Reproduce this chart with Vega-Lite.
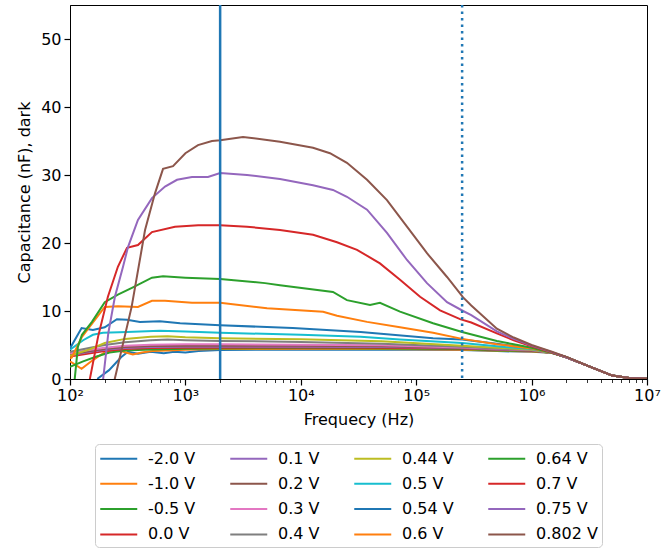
{
  "$schema": "https://vega.github.io/schema/vega-lite/v6.json",
  "autosize": {"type": "none"},
  "padding": {"left": 70, "top": 5, "right": 14, "bottom": 175},
  "width": 577,
  "height": 374,
  "config": {
    "font": "DejaVu Sans",
    "view": {"stroke": "#000000", "strokeWidth": 1},
    "axis": {"grid": false, "domainColor": "#000000", "tickColor": "#000000", "labelColor": "#000000", "titleColor": "#000000", "labelFontSize": 16, "titleFontSize": 16, "titleFontWeight": "normal", "labelFont": "DejaVu Sans", "titleFont": "DejaVu Sans"}
  },
  "datasets": {
    "curves": [
      {"s":"-2.0 V","f":165,"c":-1.5},{"s":"-2.0 V","f":175,"c":0.1},{"s":"-2.0 V","f":218,"c":1.3},{"s":"-2.0 V","f":277,"c":3.2},{"s":"-2.0 V","f":318,"c":4.0},{"s":"-2.0 V","f":388,"c":3.7},{"s":"-2.0 V","f":500,"c":4.0},{"s":"-2.0 V","f":650,"c":3.8},{"s":"-2.0 V","f":800,"c":4.0},{"s":"-2.0 V","f":1000,"c":3.9},{"s":"-2.0 V","f":1300,"c":4.1},{"s":"-2.0 V","f":2000,"c":4.25},{"s":"-2.0 V","f":5000,"c":4.3},{"s":"-2.0 V","f":20000,"c":4.3},{"s":"-2.0 V","f":100000,"c":4.3},{"s":"-2.0 V","f":250000,"c":4.25},{"s":"-2.0 V","f":500000,"c":4.1},{"s":"-2.0 V","f":1000000,"c":4.0},{"s":"-2.0 V","f":1500000,"c":3.85},{"s":"-2.0 V","f":2000000,"c":3.2},{"s":"-2.0 V","f":3000000,"c":2.0},{"s":"-2.0 V","f":5000000,"c":0.5},{"s":"-2.0 V","f":7000000,"c":0.15},{"s":"-2.0 V","f":10000000,"c":0.05},

      {"s":"-1.0 V","f":100,"c":2.6},{"s":"-1.0 V","f":126,"c":1.5},{"s":"-1.0 V","f":150,"c":2.5},{"s":"-1.0 V","f":175,"c":3.3},{"s":"-1.0 V","f":200,"c":3.9},{"s":"-1.0 V","f":240,"c":4.3},{"s":"-1.0 V","f":290,"c":4.0},{"s":"-1.0 V","f":350,"c":3.6},{"s":"-1.0 V","f":420,"c":3.9},{"s":"-1.0 V","f":520,"c":4.1},{"s":"-1.0 V","f":700,"c":4.2},{"s":"-1.0 V","f":1000,"c":4.3},{"s":"-1.0 V","f":2000,"c":4.4},{"s":"-1.0 V","f":10000,"c":4.45},{"s":"-1.0 V","f":50000,"c":4.4},{"s":"-1.0 V","f":250000,"c":4.3},{"s":"-1.0 V","f":500000,"c":4.15},{"s":"-1.0 V","f":1000000,"c":4.05},{"s":"-1.0 V","f":1500000,"c":3.85},{"s":"-1.0 V","f":2000000,"c":3.2},{"s":"-1.0 V","f":3000000,"c":2.0},{"s":"-1.0 V","f":5000000,"c":0.5},{"s":"-1.0 V","f":7000000,"c":0.15},{"s":"-1.0 V","f":10000000,"c":0.05},

      {"s":"-0.5 V","f":100,"c":1.8},{"s":"-0.5 V","f":130,"c":2.6},{"s":"-0.5 V","f":170,"c":3.3},{"s":"-0.5 V","f":220,"c":3.9},{"s":"-0.5 V","f":300,"c":4.2},{"s":"-0.5 V","f":500,"c":4.35},{"s":"-0.5 V","f":1000,"c":4.45},{"s":"-0.5 V","f":2000,"c":4.5},{"s":"-0.5 V","f":10000,"c":4.55},{"s":"-0.5 V","f":50000,"c":4.5},{"s":"-0.5 V","f":250000,"c":4.4},{"s":"-0.5 V","f":500000,"c":4.2},{"s":"-0.5 V","f":1000000,"c":4.1},{"s":"-0.5 V","f":1500000,"c":3.85},{"s":"-0.5 V","f":2000000,"c":3.2},{"s":"-0.5 V","f":3000000,"c":2.0},{"s":"-0.5 V","f":5000000,"c":0.5},{"s":"-0.5 V","f":7000000,"c":0.15},{"s":"-0.5 V","f":10000000,"c":0.05},

      {"s":"0.0 V","f":100,"c":3.3},{"s":"0.0 V","f":150,"c":3.8},{"s":"0.0 V","f":200,"c":4.1},{"s":"0.0 V","f":300,"c":4.4},{"s":"0.0 V","f":500,"c":4.55},{"s":"0.0 V","f":1000,"c":4.6},{"s":"0.0 V","f":2000,"c":4.6},{"s":"0.0 V","f":10000,"c":4.65},{"s":"0.0 V","f":50000,"c":4.6},{"s":"0.0 V","f":250000,"c":4.5},{"s":"0.0 V","f":500000,"c":4.3},{"s":"0.0 V","f":1000000,"c":4.15},{"s":"0.0 V","f":1500000,"c":3.85},{"s":"0.0 V","f":2000000,"c":3.2},{"s":"0.0 V","f":3000000,"c":2.0},{"s":"0.0 V","f":5000000,"c":0.5},{"s":"0.0 V","f":7000000,"c":0.15},{"s":"0.0 V","f":10000000,"c":0.05},

      {"s":"0.1 V","f":100,"c":3.5},{"s":"0.1 V","f":150,"c":4.0},{"s":"0.1 V","f":200,"c":4.3},{"s":"0.1 V","f":300,"c":4.55},{"s":"0.1 V","f":500,"c":4.7},{"s":"0.1 V","f":1000,"c":4.75},{"s":"0.1 V","f":2000,"c":4.75},{"s":"0.1 V","f":10000,"c":4.75},{"s":"0.1 V","f":50000,"c":4.7},{"s":"0.1 V","f":250000,"c":4.55},{"s":"0.1 V","f":500000,"c":4.35},{"s":"0.1 V","f":1000000,"c":4.2},{"s":"0.1 V","f":1500000,"c":3.85},{"s":"0.1 V","f":2000000,"c":3.2},{"s":"0.1 V","f":3000000,"c":2.0},{"s":"0.1 V","f":5000000,"c":0.5},{"s":"0.1 V","f":7000000,"c":0.15},{"s":"0.1 V","f":10000000,"c":0.05},

      {"s":"0.2 V","f":100,"c":3.6},{"s":"0.2 V","f":150,"c":4.1},{"s":"0.2 V","f":200,"c":4.4},{"s":"0.2 V","f":300,"c":4.7},{"s":"0.2 V","f":500,"c":4.85},{"s":"0.2 V","f":1000,"c":4.9},{"s":"0.2 V","f":2000,"c":4.9},{"s":"0.2 V","f":10000,"c":4.9},{"s":"0.2 V","f":50000,"c":4.8},{"s":"0.2 V","f":250000,"c":4.6},{"s":"0.2 V","f":500000,"c":4.4},{"s":"0.2 V","f":1000000,"c":4.2},{"s":"0.2 V","f":1500000,"c":3.85},{"s":"0.2 V","f":2000000,"c":3.2},{"s":"0.2 V","f":3000000,"c":2.0},{"s":"0.2 V","f":5000000,"c":0.5},{"s":"0.2 V","f":7000000,"c":0.15},{"s":"0.2 V","f":10000000,"c":0.05},

      {"s":"0.3 V","f":100,"c":3.8},{"s":"0.3 V","f":150,"c":4.3},{"s":"0.3 V","f":200,"c":4.6},{"s":"0.3 V","f":300,"c":4.9},{"s":"0.3 V","f":500,"c":5.05},{"s":"0.3 V","f":1000,"c":5.1},{"s":"0.3 V","f":2000,"c":5.1},{"s":"0.3 V","f":10000,"c":5.05},{"s":"0.3 V","f":50000,"c":4.95},{"s":"0.3 V","f":250000,"c":4.65},{"s":"0.3 V","f":500000,"c":4.45},{"s":"0.3 V","f":1000000,"c":4.25},{"s":"0.3 V","f":1500000,"c":3.85},{"s":"0.3 V","f":2000000,"c":3.2},{"s":"0.3 V","f":3000000,"c":2.0},{"s":"0.3 V","f":5000000,"c":0.5},{"s":"0.3 V","f":7000000,"c":0.15},{"s":"0.3 V","f":10000000,"c":0.05},

      {"s":"0.4 V","f":100,"c":4.0},{"s":"0.4 V","f":150,"c":4.6},{"s":"0.4 V","f":200,"c":5.0},{"s":"0.4 V","f":300,"c":5.4},{"s":"0.4 V","f":500,"c":5.7},{"s":"0.4 V","f":700,"c":5.8},{"s":"0.4 V","f":1000,"c":5.7},{"s":"0.4 V","f":2000,"c":5.6},{"s":"0.4 V","f":10000,"c":5.45},{"s":"0.4 V","f":50000,"c":5.2},{"s":"0.4 V","f":250000,"c":4.75},{"s":"0.4 V","f":500000,"c":4.5},{"s":"0.4 V","f":1000000,"c":4.3},{"s":"0.4 V","f":1500000,"c":3.85},{"s":"0.4 V","f":2000000,"c":3.2},{"s":"0.4 V","f":3000000,"c":2.0},{"s":"0.4 V","f":5000000,"c":0.5},{"s":"0.4 V","f":7000000,"c":0.15},{"s":"0.4 V","f":10000000,"c":0.05},

      {"s":"0.44 V","f":100,"c":3.4},{"s":"0.44 V","f":150,"c":4.4},{"s":"0.44 V","f":200,"c":5.3},{"s":"0.44 V","f":300,"c":5.9},{"s":"0.44 V","f":500,"c":6.2},{"s":"0.44 V","f":700,"c":6.3},{"s":"0.44 V","f":1000,"c":6.15},{"s":"0.44 V","f":2000,"c":6.0},{"s":"0.44 V","f":10000,"c":5.85},{"s":"0.44 V","f":50000,"c":5.55},{"s":"0.44 V","f":250000,"c":4.9},{"s":"0.44 V","f":500000,"c":4.6},{"s":"0.44 V","f":1000000,"c":4.35},{"s":"0.44 V","f":1500000,"c":3.85},{"s":"0.44 V","f":2000000,"c":3.2},{"s":"0.44 V","f":3000000,"c":2.0},{"s":"0.44 V","f":5000000,"c":0.5},{"s":"0.44 V","f":7000000,"c":0.15},{"s":"0.44 V","f":10000000,"c":0.05},

      {"s":"0.5 V","f":100,"c":4.3},{"s":"0.5 V","f":130,"c":5.7},{"s":"0.5 V","f":158,"c":6.5},{"s":"0.5 V","f":193,"c":6.8},{"s":"0.5 V","f":312,"c":6.9},{"s":"0.5 V","f":600,"c":7.1},{"s":"0.5 V","f":1000,"c":7.0},{"s":"0.5 V","f":2000,"c":6.8},{"s":"0.5 V","f":10000,"c":6.5},{"s":"0.5 V","f":33000,"c":6.2},{"s":"0.5 V","f":72000,"c":5.8},{"s":"0.5 V","f":250000,"c":5.3},{"s":"0.5 V","f":500000,"c":4.8},{"s":"0.5 V","f":1000000,"c":4.4},{"s":"0.5 V","f":1500000,"c":3.85},{"s":"0.5 V","f":2000000,"c":3.2},{"s":"0.5 V","f":3000000,"c":2.0},{"s":"0.5 V","f":5000000,"c":0.5},{"s":"0.5 V","f":7000000,"c":0.15},{"s":"0.5 V","f":10000000,"c":0.05},

      {"s":"0.54 V","f":100,"c":4.5},{"s":"0.54 V","f":126,"c":7.5},{"s":"0.54 V","f":158,"c":7.2},{"s":"0.54 V","f":200,"c":7.6},{"s":"0.54 V","f":255,"c":8.8},{"s":"0.54 V","f":312,"c":8.7},{"s":"0.54 V","f":404,"c":8.4},{"s":"0.54 V","f":600,"c":8.5},{"s":"0.54 V","f":900,"c":8.2},{"s":"0.54 V","f":2000,"c":7.9},{"s":"0.54 V","f":8500,"c":7.5},{"s":"0.54 V","f":33000,"c":6.9},{"s":"0.54 V","f":140000,"c":6.0},{"s":"0.54 V","f":250000,"c":5.8},{"s":"0.54 V","f":500000,"c":5.2},{"s":"0.54 V","f":1000000,"c":4.5},{"s":"0.54 V","f":1500000,"c":3.85},{"s":"0.54 V","f":2000000,"c":3.2},{"s":"0.54 V","f":3000000,"c":2.0},{"s":"0.54 V","f":5000000,"c":0.5},{"s":"0.54 V","f":7000000,"c":0.15},{"s":"0.54 V","f":10000000,"c":0.05},

      {"s":"0.6 V","f":100,"c":3.0},{"s":"0.6 V","f":104,"c":3.2},{"s":"0.6 V","f":127,"c":6.2},{"s":"0.6 V","f":200,"c":10.6},{"s":"0.6 V","f":260,"c":10.7},{"s":"0.6 V","f":388,"c":10.6},{"s":"0.6 V","f":513,"c":11.5},{"s":"0.6 V","f":666,"c":11.5},{"s":"0.6 V","f":1140,"c":11.2},{"s":"0.6 V","f":2000,"c":11.2},{"s":"0.6 V","f":5100,"c":10.4},{"s":"0.6 V","f":15600,"c":9.9},{"s":"0.6 V","f":20600,"c":9.3},{"s":"0.6 V","f":37500,"c":8.4},{"s":"0.6 V","f":72400,"c":7.6},{"s":"0.6 V","f":140000,"c":6.8},{"s":"0.6 V","f":250000,"c":5.9},{"s":"0.6 V","f":500000,"c":5.1},{"s":"0.6 V","f":1000000,"c":4.5},{"s":"0.6 V","f":1500000,"c":3.85},{"s":"0.6 V","f":2000000,"c":3.2},{"s":"0.6 V","f":3000000,"c":2.0},{"s":"0.6 V","f":5000000,"c":0.5},{"s":"0.6 V","f":7000000,"c":0.15},{"s":"0.6 V","f":10000000,"c":0.05},

      {"s":"0.64 V","f":108,"c":-1},{"s":"0.64 V","f":110,"c":0.1},{"s":"0.64 V","f":117,"c":4.7},{"s":"0.64 V","f":127,"c":6.5},{"s":"0.64 V","f":155,"c":8.4},{"s":"0.64 V","f":200,"c":11.3},{"s":"0.64 V","f":260,"c":12.4},{"s":"0.64 V","f":344,"c":13.4},{"s":"0.64 V","f":513,"c":14.9},{"s":"0.64 V","f":640,"c":15.1},{"s":"0.64 V","f":1000,"c":14.9},{"s":"0.64 V","f":2000,"c":14.7},{"s":"0.64 V","f":4900,"c":14.1},{"s":"0.64 V","f":6600,"c":13.8},{"s":"0.64 V","f":19000,"c":12.8},{"s":"0.64 V","f":25100,"c":11.6},{"s":"0.64 V","f":39800,"c":10.9},{"s":"0.64 V","f":48500,"c":11.2},{"s":"0.64 V","f":72400,"c":9.9},{"s":"0.64 V","f":140000,"c":8.2},{"s":"0.64 V","f":250000,"c":6.9},{"s":"0.64 V","f":500000,"c":5.6},{"s":"0.64 V","f":700000,"c":5.1},{"s":"0.64 V","f":1000000,"c":4.6},{"s":"0.64 V","f":1500000,"c":3.85},{"s":"0.64 V","f":2000000,"c":3.2},{"s":"0.64 V","f":3000000,"c":2.0},{"s":"0.64 V","f":5000000,"c":0.5},{"s":"0.64 V","f":7000000,"c":0.15},{"s":"0.64 V","f":10000000,"c":0.05},

      {"s":"0.7 V","f":140,"c":-3},{"s":"0.7 V","f":149,"c":0.1},{"s":"0.7 V","f":175,"c":6.2},{"s":"0.7 V","f":213,"c":12.1},{"s":"0.7 V","f":260,"c":16.5},{"s":"0.7 V","f":312,"c":19.3},{"s":"0.7 V","f":388,"c":19.7},{"s":"0.7 V","f":513,"c":21.6},{"s":"0.7 V","f":812,"c":22.4},{"s":"0.7 V","f":1290,"c":22.6},{"s":"0.7 V","f":2000,"c":22.6},{"s":"0.7 V","f":3420,"c":22.4},{"s":"0.7 V","f":6600,"c":21.9},{"s":"0.7 V","f":12760,"c":21.2},{"s":"0.7 V","f":20600,"c":20.1},{"s":"0.7 V","f":30700,"c":19.0},{"s":"0.7 V","f":48500,"c":17.0},{"s":"0.7 V","f":72400,"c":14.6},{"s":"0.7 V","f":108000,"c":12.1},{"s":"0.7 V","f":161000,"c":10.1},{"s":"0.7 V","f":240000,"c":8.8},{"s":"0.7 V","f":300000,"c":8.3},{"s":"0.7 V","f":500000,"c":6.7},{"s":"0.7 V","f":700000,"c":5.7},{"s":"0.7 V","f":1000000,"c":4.8},{"s":"0.7 V","f":1500000,"c":3.9},{"s":"0.7 V","f":2000000,"c":3.2},{"s":"0.7 V","f":3000000,"c":2.0},{"s":"0.7 V","f":5000000,"c":0.5},{"s":"0.7 V","f":7000000,"c":0.15},{"s":"0.7 V","f":10000000,"c":0.05},

      {"s":"0.75 V","f":185,"c":-2.5},{"s":"0.75 V","f":194,"c":0.1},{"s":"0.75 V","f":215,"c":6.8},{"s":"0.75 V","f":245,"c":12.1},{"s":"0.75 V","f":288,"c":16.5},{"s":"0.75 V","f":318,"c":19.4},{"s":"0.75 V","f":388,"c":23.4},{"s":"0.75 V","f":513,"c":26.6},{"s":"0.75 V","f":666,"c":28.3},{"s":"0.75 V","f":846,"c":29.3},{"s":"0.75 V","f":1140,"c":29.7},{"s":"0.75 V","f":1570,"c":29.7},{"s":"0.75 V","f":2000,"c":30.3},{"s":"0.75 V","f":3420,"c":30.0},{"s":"0.75 V","f":6600,"c":29.4},{"s":"0.75 V","f":12760,"c":28.5},{"s":"0.75 V","f":19000,"c":27.8},{"s":"0.75 V","f":25100,"c":26.8},{"s":"0.75 V","f":37500,"c":24.9},{"s":"0.75 V","f":55800,"c":21.5},{"s":"0.75 V","f":83200,"c":17.5},{"s":"0.75 V","f":124000,"c":14.1},{"s":"0.75 V","f":185000,"c":11.3},{"s":"0.75 V","f":255000,"c":10.0},{"s":"0.75 V","f":300000,"c":9.4},{"s":"0.75 V","f":500000,"c":7.0},{"s":"0.75 V","f":700000,"c":5.9},{"s":"0.75 V","f":1000000,"c":4.9},{"s":"0.75 V","f":1500000,"c":3.95},{"s":"0.75 V","f":2000000,"c":3.2},{"s":"0.75 V","f":3000000,"c":2.0},{"s":"0.75 V","f":5000000,"c":0.5},{"s":"0.75 V","f":7000000,"c":0.15},{"s":"0.75 V","f":10000000,"c":0.05},

      {"s":"0.802 V","f":230,"c":-2},{"s":"0.802 V","f":245,"c":0.1},{"s":"0.802 V","f":342,"c":10.6},{"s":"0.802 V","f":447,"c":21.9},{"s":"0.802 V","f":545,"c":27.3},{"s":"0.802 V","f":640,"c":30.9},{"s":"0.802 V","f":781,"c":31.3},{"s":"0.802 V","f":1000,"c":33.2},{"s":"0.802 V","f":1286,"c":34.4},{"s":"0.802 V","f":1700,"c":35.0},{"s":"0.802 V","f":2000,"c":35.1},{"s":"0.802 V","f":3155,"c":35.6},{"s":"0.802 V","f":6600,"c":34.9},{"s":"0.802 V","f":12760,"c":34.0},{"s":"0.802 V","f":17900,"c":33.2},{"s":"0.802 V","f":25100,"c":31.8},{"s":"0.802 V","f":37500,"c":29.3},{"s":"0.802 V","f":55800,"c":26.3},{"s":"0.802 V","f":83200,"c":22.4},{"s":"0.802 V","f":124000,"c":18.5},{"s":"0.802 V","f":185000,"c":15.0},{"s":"0.802 V","f":255000,"c":12.0},{"s":"0.802 V","f":300000,"c":10.8},{"s":"0.802 V","f":500000,"c":7.4},{"s":"0.802 V","f":700000,"c":6.1},{"s":"0.802 V","f":1000000,"c":5.0},{"s":"0.802 V","f":1500000,"c":4.0},{"s":"0.802 V","f":2000000,"c":3.25},{"s":"0.802 V","f":3000000,"c":2.0},{"s":"0.802 V","f":5000000,"c":0.5},{"s":"0.802 V","f":7000000,"c":0.15},{"s":"0.802 V","f":10000000,"c":0.05}
    ],
    "solidline": [{"f": 2000}],
    "dottedline": [{"f": 250000}]
  },
  "layer": [
    {
      "data": {"name": "curves"},
      "mark": {"type": "line", "strokeWidth": 2, "clip": true},
      "encoding": {
        "x": {
          "field": "f", "type": "quantitative",
          "scale": {"type": "log", "domain": [100, 10000000], "nice": false},
          "axis": {
            "title": "Frequecy (Hz)",
            "values": [100,200,300,400,500,600,700,800,900,1000,2000,3000,4000,5000,6000,7000,8000,9000,10000,20000,30000,40000,50000,60000,70000,80000,90000,100000,200000,300000,400000,500000,600000,700000,800000,900000,1000000,2000000,3000000,4000000,5000000,6000000,7000000,8000000,9000000,10000000],
            "labelExpr": "abs(log(datum.value)/LN10 - round(log(datum.value)/LN10)) < 0.001 ? '10' + ['⁰','¹','²','³','⁴','⁵','⁶','⁷','⁸','⁹'][round(log(datum.value)/LN10)] : ''",
            "labelOverlap": false,
            "labelFlush": false,
            "labelPadding": 2,
            "titlePadding": 8,
            "tickSize": {"condition": {"test": "abs(log(datum.value)/LN10 - round(log(datum.value)/LN10)) < 0.001", "value": 6}, "value": 3.5},
            "tickWidth": {"condition": {"test": "abs(log(datum.value)/LN10 - round(log(datum.value)/LN10)) < 0.001", "value": 1.2}, "value": 0.8}
          }
        },
        "y": {
          "field": "c", "type": "quantitative",
          "scale": {"domain": [0, 55], "nice": false, "zero": false},
          "axis": {"title": "Capacitance (nF), dark", "values": [0,10,20,30,40,50], "tickSize": 6, "tickWidth": 1.2, "labelPadding": 3, "titlePadding": 8}
        },
        "color": {
          "field": "s", "type": "nominal",
          "scale": {
            "domain": ["-2.0 V","0.1 V","0.44 V","0.64 V","-1.0 V","0.2 V","0.5 V","0.7 V","-0.5 V","0.3 V","0.54 V","0.75 V","0.0 V","0.4 V","0.6 V","0.802 V"],
            "range": ["#1f77b4","#9467bd","#bcbd22","#2ca02c","#ff7f0e","#8c564b","#17becf","#d62728","#2ca02c","#e377c2","#1f77b4","#9467bd","#d62728","#7f7f7f","#ff7f0e","#8c564b"]
          },
          "legend": {
            "title": null, "orient": "none", "legendX": 25, "legendY": 439,
            "direction": "horizontal", "columns": 4,
            "symbolType": "M-1,0L3,0", "symbolSize": 342, "symbolStrokeWidth": 2,
            "labelFontSize": 16, "labelFont": "DejaVu Sans", "labelColor": "#000000", "labelOffset": 28,
            "columnPadding": 30, "rowPadding": 6.3, "padding": 4,
            "strokeColor": "#cccccc", "fillColor": "#ffffff", "cornerRadius": 4
          }
        }
      }
    },
    {
      "data": {"name": "solidline"},
      "mark": {"type": "rule", "color": "#1f77b4", "strokeWidth": 2.5},
      "encoding": {"x": {"field": "f", "type": "quantitative"}}
    },
    {
      "data": {"name": "dottedline"},
      "mark": {"type": "rule", "color": "#1f77b4", "strokeWidth": 2.5, "strokeDash": [2.5, 4]},
      "encoding": {"x": {"field": "f", "type": "quantitative"}}
    }
  ]
}
